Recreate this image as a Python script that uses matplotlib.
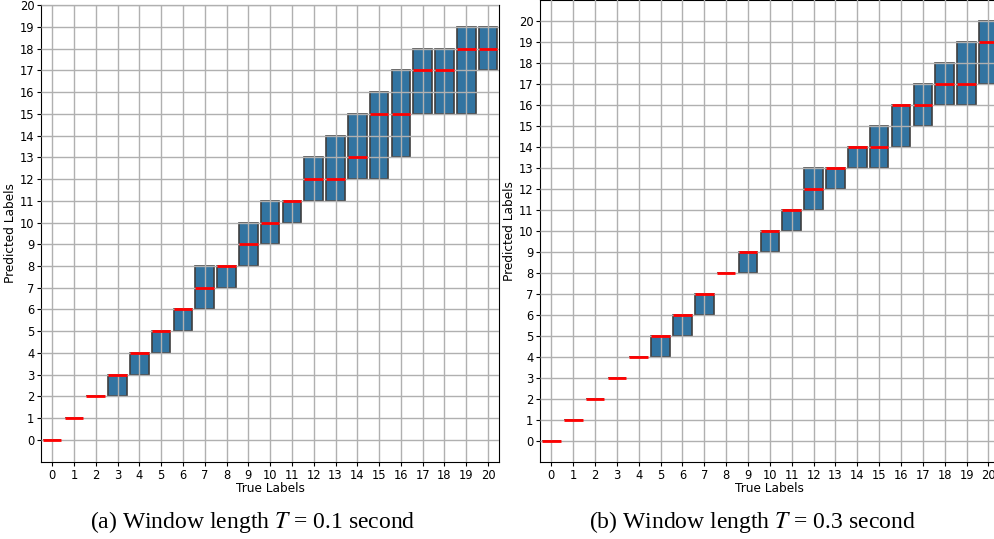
import matplotlib.pyplot as plt

# true labels 0..20
labels = list(range(21))

# (a) T = 0.1 s : lower quartile, median, upper quartile of predicted labels
a_q1 = [0, 1, 2, 2, 3, 4, 5, 6, 7, 8, 9, 10, 11, 11, 12, 12, 13, 15, 15, 15, 17]
a_med = [0, 1, 2, 3, 4, 5, 6, 7, 8, 9, 10, 11, 12, 12, 13, 15, 15, 17, 17, 18, 18]
a_q3 = [0, 1, 2, 3, 4, 5, 6, 8, 8, 10, 11, 11, 13, 14, 15, 16, 17, 18, 18, 19, 19]

# (b) T = 0.3 s
b_q1 = [0, 1, 2, 3, 4, 4, 5, 6, 8, 8, 9, 10, 11, 12, 13, 13, 14, 15, 16, 16, 17]
b_med = [0, 1, 2, 3, 4, 5, 6, 7, 8, 9, 10, 11, 12, 13, 14, 14, 16, 16, 17, 17, 19]
b_q3 = [0, 1, 2, 3, 4, 5, 6, 7, 8, 9, 10, 11, 13, 13, 14, 15, 16, 17, 18, 19, 20]

captions = ['(a) Window length $T$ = 0.1 second',
            '(b) Window length $T$ = 0.3 second']

plt.rcParams['mathtext.fontset'] = 'stix'

fig = plt.figure(figsize=(9.94, 5.39), dpi=100)
ax1 = fig.add_axes([0.0415, 0.1435, 0.4605, 0.847])
ax2 = fig.add_axes([0.5437, 0.1435, 0.4617, 0.8565])


def draw(ax, q1, med, q3, ylim):
    stats = []
    for i in range(len(labels)):
        stats.append({'med': med[i], 'q1': q1[i], 'q3': q3[i],
                      'whislo': q1[i], 'whishi': q3[i], 'fliers': []})
    ax.bxp(stats, positions=labels, widths=0.85, patch_artist=True,
           showcaps=False, showfliers=False,
           boxprops=dict(facecolor='#3274a1', edgecolor='#3f3f3f', linewidth=1.2),
           whiskerprops=dict(color='#3f3f3f'),
           medianprops=dict(color='red', linewidth=2, zorder=3))
    ax.set_xlim(-0.5, 20.5)
    ax.set_ylim(*ylim)
    ax.set_xticks(labels)
    ax.set_xticklabels([str(l) for l in labels])
    ax.set_yticks(labels)
    ax.grid(True, color='#b0b0b0', linewidth=1)
    ax.set_axisbelow(False)
    ax.tick_params(labelsize=8.3, length=3, pad=2)
    ax.set_xlabel('True Labels', fontsize=8.7, labelpad=0)
    ax.set_ylabel('Predicted Labels', fontsize=8.7, labelpad=2)


draw(ax1, a_q1, a_med, a_q3, (-1, 20))
draw(ax2, b_q1, b_med, b_q3, (-1, 21))

fig.text(0.2545, 0.031, captions[0], ha='center', va='center',
         fontsize=17, family='Liberation Serif')
fig.text(0.7565, 0.031, captions[1], ha='center', va='center',
         fontsize=17, family='Liberation Serif')

fig.savefig('out.png', dpi=100)
